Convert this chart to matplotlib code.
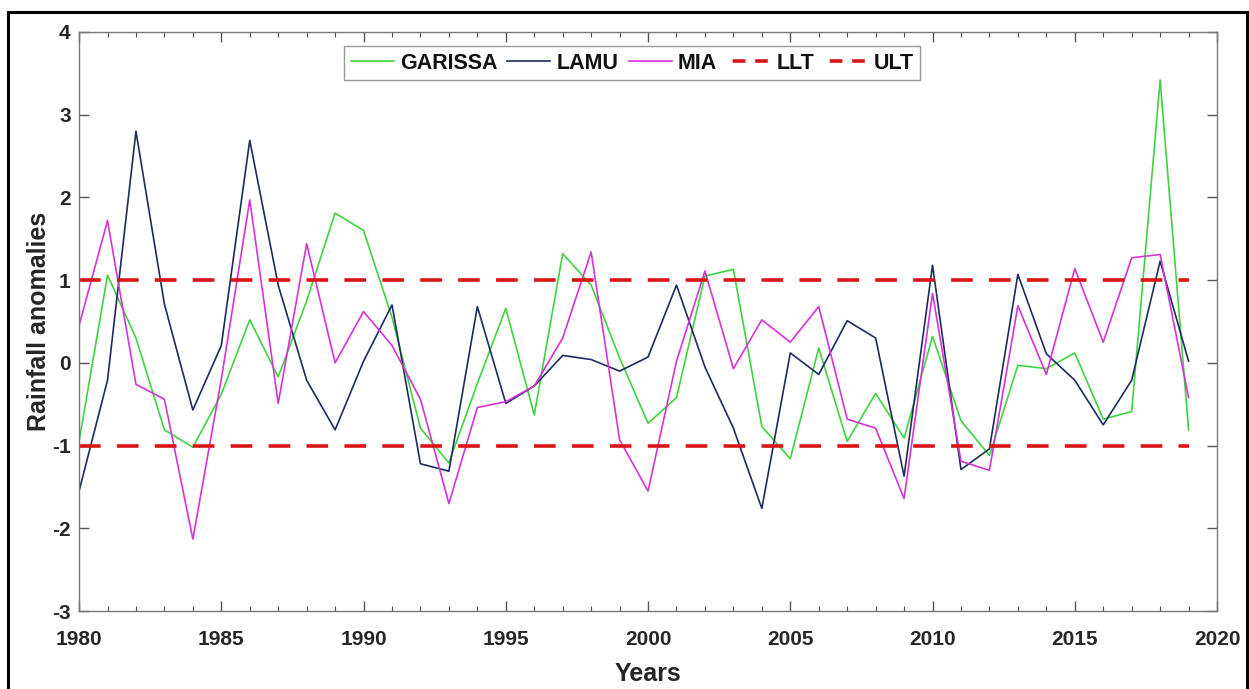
import matplotlib
matplotlib.use('Agg')
import matplotlib.pyplot as plt
from matplotlib.patches import Rectangle
from matplotlib.ticker import MultipleLocator

plt.rcParams['font.family'] = ['Liberation Sans', 'DejaVu Sans']
plt.rcParams['font.weight'] = 'bold'
plt.rcParams['axes.unicode_minus'] = False

years = list(range(1980, 2020))

garissa = [-0.95, 1.06, 0.30, -0.81, -1.02, -0.38, 0.52, -0.17, 0.75, 1.81,
           1.60, 0.55, -0.79, -1.21, -0.25, 0.66, -0.63, 1.32, 0.94, 0.06,
           -0.73, -0.42, 1.05, 1.13, -0.77, -1.16, 0.18, -0.95, -0.37, -0.91,
           0.32, -0.70, -1.12, -0.03, -0.07, 0.12, -0.68, -0.59, 3.42, -0.81]

lamu = [-1.55, -0.21, 2.80, 0.71, -0.57, 0.21, 2.69, 0.94, -0.21, -0.81,
        0.02, 0.70, -1.22, -1.31, 0.68, -0.49, -0.28, 0.09, 0.04, -0.10,
        0.07, 0.94, -0.05, -0.79, -1.76, 0.12, -0.14, 0.51, 0.30, -1.37,
        1.18, -1.29, -1.04, 1.07, 0.11, -0.21, -0.75, -0.21, 1.23, 0.02]

mia = [0.45, 1.72, -0.26, -0.44, -2.13, -0.20, 1.97, -0.49, 1.44, 0.00,
       0.62, 0.21, -0.44, -1.70, -0.54, -0.47, -0.28, 0.30, 1.34, -0.93,
       -1.55, 0.02, 1.11, -0.07, 0.52, 0.25, 0.68, -0.68, -0.79, -1.64,
       0.84, -1.19, -1.30, 0.69, -0.14, 1.14, 0.25, 1.27, 1.31, -0.42]

# lower / upper thresholds
llt = [-1.0] * len(years)
ult = [1.0] * len(years)

fig = plt.figure(figsize=(12.49, 6.89), dpi=100)
ax = fig.add_axes([0.0633, 0.1132, 0.9111, 0.8404])

ax.plot(years, garissa, color='#3fd43f', lw=1.2, label='GARISSA')
ax.plot(years, lamu, color='#1c2c5e', lw=1.2, label='LAMU')
ax.plot(years, mia, color='#d633d6', lw=1.2, label='MIA')
ax.plot(years, llt, color='#d91515', lw=2.6, dashes=(6, 4.5), label='LLT')
ax.plot(years, ult, color='#d91515', lw=2.6, dashes=(6, 4.5), label='ULT')

ax.set_xlim(1980, 2020)
ax.set_ylim(-3, 4)
ax.xaxis.set_major_locator(MultipleLocator(5))
ax.xaxis.set_minor_locator(MultipleLocator(1))
ax.yaxis.set_major_locator(MultipleLocator(1))

for s in ax.spines.values():
    s.set_color('#777777')
    s.set_linewidth(1.0)
ax.tick_params(which='both', direction='in', top=True, right=True,
               color='#555555', labelsize=15, labelcolor='#262626')
ax.tick_params(which='major', length=7, width=1)
ax.tick_params(which='minor', length=3.5, width=0.8)
ax.tick_params(axis='x', which='major', pad=14)
ax.tick_params(axis='y', which='major', pad=6)

ax.set_xlabel('Years', fontsize=18, fontweight='bold', color='#262626', labelpad=9)
ax.set_ylabel('Rainfall anomalies', fontsize=18, fontweight='bold', color='#262626', labelpad=1)

leg = ax.legend(loc='upper center', bbox_to_anchor=(0.486, 0.975), ncol=5,
                fontsize=15.5, frameon=True, fancybox=False, framealpha=1,
                edgecolor='#999999', handlelength=2.0, handletextpad=0.3,
                columnspacing=0.45, borderpad=0.3, borderaxespad=0)
leg.get_frame().set_linewidth(1.0)
for t in leg.get_texts():
    t.set_color('#111111')
# shorter dashes in the legend keys so each shows two dashes
for ln in leg.get_lines()[3:]:
    ln.set_linestyle((4.6, (3.5, 2.7)))

# outer frame around the figure
fig.patches.append(Rectangle((0.0064, -0.05), 0.992, 1.0326, transform=fig.transFigure,
                             fill=False, edgecolor='black', lw=2.2, clip_on=False))

fig.savefig('out.png', dpi=100)
